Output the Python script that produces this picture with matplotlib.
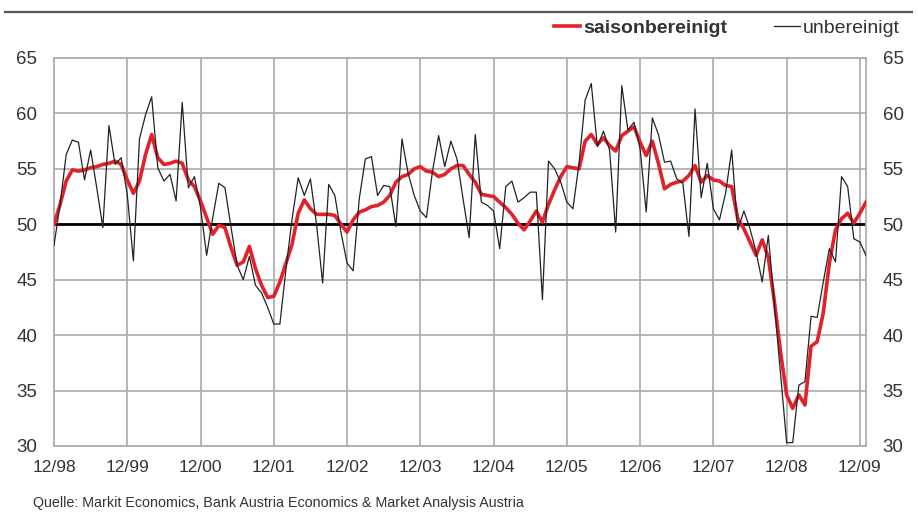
import numpy as np
import matplotlib
matplotlib.use("Agg")
import matplotlib.pyplot as plt

plt.rcParams["font.family"] = ["Liberation Sans", "DejaVu Sans"]

# Monatswerte ab 12/98 (Index 0) bis 01/10
saisonbereinigt = [
    50.0, 51.8, 53.9, 54.9, 54.8, 54.9, 55.1, 55.2, 55.4, 55.5, 55.7, 55.4,  # 12/98 - 11/99
    54.0, 52.8, 53.9, 56.3, 58.1, 56.0, 55.4, 55.5, 55.7, 55.5, 54.0, 53.4,  # 12/99 - 11/00
    52.1, 50.6, 49.1, 49.9, 49.7, 47.9, 46.3, 46.6, 48.0, 46.0, 44.5, 43.4,  # 12/00 - 11/01
    43.5, 44.8, 46.5, 48.2, 51.0, 52.2, 51.4, 50.9, 50.9, 50.9, 50.8, 50.0,  # 12/01 - 11/02
    49.3, 50.4, 51.1, 51.3, 51.6, 51.7, 52.0, 52.6, 53.8, 54.3, 54.5, 55.0,  # 12/02 - 11/03
    55.2, 54.8, 54.7, 54.3, 54.5, 55.0, 55.3, 55.3, 54.5, 53.8, 52.7, 52.6,  # 12/03 - 11/04
    52.5, 52.0, 51.5, 50.9, 50.1, 49.5, 50.3, 51.2, 50.2, 51.8, 53.1, 54.3,  # 12/04 - 11/05
    55.2, 55.1, 55.0, 57.5, 58.1, 57.2, 57.8, 57.1, 56.6, 58.0, 58.4, 58.8,  # 12/05 - 11/06
    57.4, 56.2, 57.5, 55.5, 53.2, 53.6, 53.8, 53.9, 54.4, 55.3, 53.8, 54.4,  # 12/06 - 11/07
    54.0, 53.9, 53.5, 53.4, 50.5, 49.6, 48.4, 47.2, 48.6, 47.0, 43.0, 38.5,  # 12/07 - 11/08
    34.6, 33.4, 34.6, 33.7, 39.0, 39.4, 42.0, 46.5, 49.5, 50.5, 51.0, 50.1,  # 12/08 - 11/09
    51.0, 52.0,                                                              # 12/09 - 01/10
]
unbereinigt = [
    48.1, 51.8, 56.3, 57.6, 57.4, 54.0, 56.7, 53.3, 49.7, 58.9, 55.4, 56.0,
    52.7, 46.7, 57.7, 59.9, 61.5, 55.1, 53.9, 54.5, 52.1, 61.0, 53.3, 54.3,
    51.5, 47.2, 50.6, 53.7, 53.3, 49.7, 46.3, 45.0, 47.1, 44.5, 43.8, 42.5,
    41.0, 41.0, 46.0, 50.5, 54.2, 52.6, 54.1, 50.0, 44.7, 53.6, 52.6, 49.3,
    46.5, 45.8, 52.3, 55.9, 56.1, 52.6, 53.5, 53.4, 49.8, 57.7, 54.6, 52.6,
    51.2, 50.6, 54.8, 58.0, 55.2, 57.5, 55.9, 52.3, 48.8, 58.1, 52.0, 51.7,
    51.2, 47.8, 53.4, 53.9, 52.0, 52.4, 52.9, 52.9, 43.2, 55.7, 55.0, 53.8,
    52.0, 51.4, 55.5, 61.2, 62.7, 57.0, 58.4, 56.7, 49.3, 62.5, 58.5, 59.2,
    56.8, 51.1, 59.6, 58.1, 55.6, 55.7, 54.1, 53.7, 48.9, 60.4, 52.4, 55.5,
    51.4, 50.4, 52.8, 56.7, 49.5, 51.2, 49.6, 47.5, 44.8, 49.0, 42.8, 36.5,
    30.3, 30.3, 35.5, 35.8, 41.7, 41.6, 44.8, 47.8, 46.6, 54.3, 53.4, 48.7,
    48.4, 47.2,
]
x_labels = ["12/98", "12/99", "12/00", "12/01", "12/02", "12/03",
            "12/04", "12/05", "12/06", "12/07", "12/08", "12/09"]
y_ticks = [30, 35, 40, 45, 50, 55, 60, 65]
quelle = "Quelle: Markit Economics, Bank Austria Economics & Market Analysis Austria"

x = np.arange(len(saisonbereinigt))
grau = "#b0b0b0"
text_col = "#333333"

fig = plt.figure(figsize=(9.18, 5.12), dpi=100)
ax = fig.add_axes([54 / 918, 1 - 446 / 512, (866 - 54) / 918, (446 - 58) / 512])

ax.set_xlim(0, len(x) - 1)
ax.set_ylim(30, 65)
ax.set_xticks(np.arange(0, 12 * len(x_labels), 12))
ax.set_xticklabels(x_labels)
ax.set_yticks(y_ticks)

ax.grid(True, color=grau, linewidth=1.3)
ax.set_axisbelow(True)
for s in ax.spines.values():
    s.set_color(grau)
    s.set_linewidth(1.3)

ax.tick_params(axis="both", length=0, colors=text_col)
ax.tick_params(axis="y", pad=12, labelright=True, right=False, labelsize=13.5)
ax.tick_params(axis="x", pad=10, labelsize=12.5)

ax.axhline(50, color="black", linewidth=2.0, zorder=2)
l1, = ax.plot(x, saisonbereinigt, color="#e3212b", linewidth=2.6, zorder=3,
              label="saisonbereinigt")
l2, = ax.plot(x, unbereinigt, color="#222222", linewidth=0.9, zorder=4,
              label="unbereinigt")

leg = fig.legend(handles=[l1, l2], loc="center right", ncol=2,
                 bbox_to_anchor=(908 / 918, 1 - 28 / 512), frameon=False,
                 fontsize=14, handlelength=1.35, handletextpad=0.15,
                 columnspacing=2.4, borderaxespad=0)
for t in leg.get_texts():
    t.set_color(text_col)
leg.get_texts()[0].set_fontweight("bold")

# Trennlinie oben
fig.add_artist(plt.Line2D([5 / 918, 912 / 918], [1 - 12 / 512, 1 - 12 / 512],
                          color="#555555", linewidth=1.6))

fig.text(33 / 918, 1 - 503 / 512, quelle, fontsize=10.3, color=text_col,
         va="center", ha="left")

fig.savefig("out.png", dpi=100)
